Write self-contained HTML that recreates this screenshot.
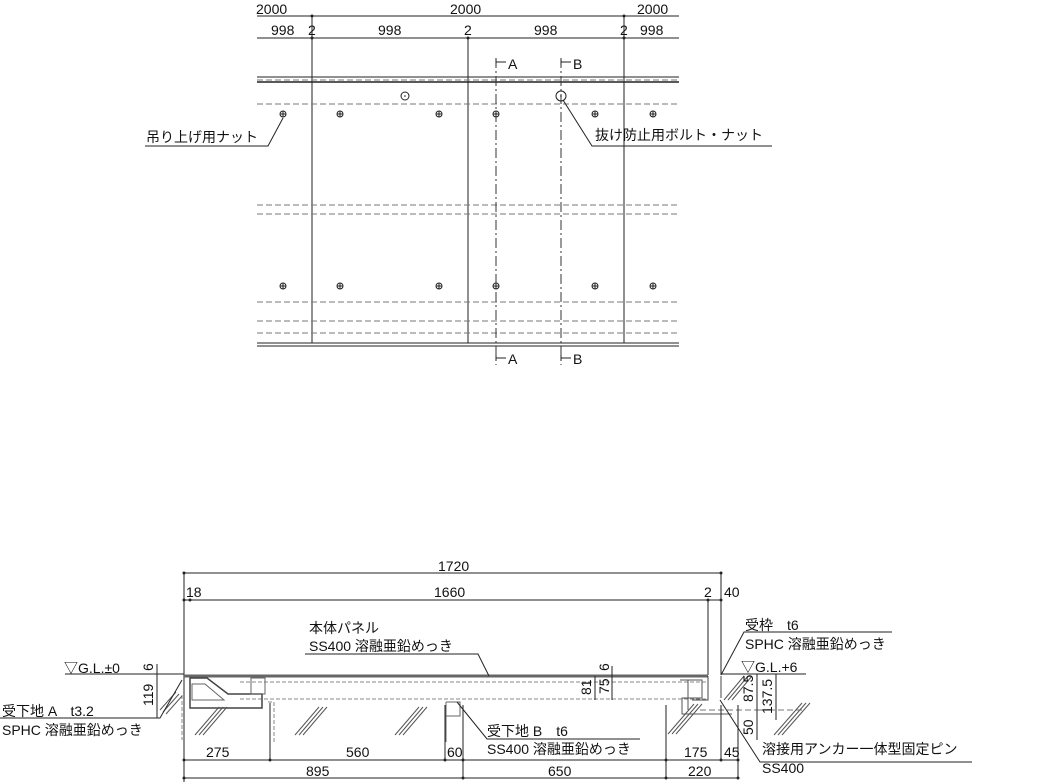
<!DOCTYPE html>
<html><head><meta charset="utf-8"><style>
body{margin:0;background:#fff}
svg{display:block}
text{font-family:"Liberation Sans","Noto Sans CJK JP",sans-serif;font-size:14px;fill:#111}
</style></head><body>
<svg width="1054" height="782" viewBox="0 0 1054 782" xmlns="http://www.w3.org/2000/svg">
<g stroke="#222" stroke-width="1" fill="none">
<line x1="257" y1="16" x2="679" y2="16"/>
<line x1="257" y1="38" x2="679" y2="38"/>
<line x1="312" y1="16" x2="312" y2="343"/>
<line x1="468" y1="38" x2="468" y2="343"/>
<line x1="624" y1="16" x2="624" y2="343"/>
<line x1="257" y1="77" x2="679" y2="77"/>
<line x1="257" y1="82" x2="679" y2="82" stroke-width="1.5"/>
<line x1="257" y1="343" x2="679" y2="343"/>
<line x1="257" y1="346" x2="679" y2="346"/>
</g>
<g stroke="#777" stroke-dasharray="6,3" fill="none">
<line x1="257" y1="80" x2="679" y2="80"/>
<line x1="257" y1="104" x2="679" y2="104"/>
<line x1="257" y1="205" x2="679" y2="205"/>
<line x1="257" y1="214" x2="679" y2="214"/>
<line x1="257" y1="302" x2="679" y2="302"/>
<line x1="257" y1="321" x2="679" y2="321"/>
<line x1="257" y1="333" x2="679" y2="333"/>
</g>
<g stroke="#333" stroke-dasharray="10,3,2,3" fill="none">
<line x1="496" y1="58" x2="496" y2="365"/>
<line x1="561" y1="58" x2="561" y2="365"/>
</g>
<g fill="#222">
<circle cx="312" cy="16" r="1.5"/><circle cx="624" cy="16" r="1.5"/>
<circle cx="312" cy="38" r="1.5"/><circle cx="468" cy="38" r="1.5"/><circle cx="624" cy="38" r="1.5"/>
</g>
<g stroke="#222" fill="none">
<g id="b"><circle cx="283" cy="114" r="3"/><line x1="280" y1="114" x2="286" y2="114"/><line x1="283" y1="111" x2="283" y2="117"/></g>
<use href="#b" x="57"/><use href="#b" x="156"/><use href="#b" x="213"/><use href="#b" x="312"/><use href="#b" x="370"/>
<use href="#b" y="172"/><use href="#b" x="57" y="172"/><use href="#b" x="156" y="172"/><use href="#b" x="213" y="172"/><use href="#b" x="312" y="172"/><use href="#b" x="370" y="172"/>
<circle cx="405" cy="96" r="4"/><circle cx="561" cy="96" r="5"/>
<polyline points="283,118 268,146 145,146"/>
<polyline points="563,100 592,146 772,146"/>
<path d="M496 62 h10 M496 59v6 M561 62h10 M561 59v6 M496 358h10 M496 355v6 M561 358h10 M561 355v6"/>
</g>
<g fill="#222"><circle cx="405" cy="96" r="0.8"/><circle cx="561" cy="96" r="0.8"/></g>
<text x="256" y="14">2000</text><text x="450" y="14">2000</text><text x="637" y="14">2000</text>
<text x="271" y="35">998</text><text x="308" y="35">2</text><text x="378" y="35">998</text><text x="464" y="35">2</text><text x="534" y="35">998</text><text x="620" y="35">2</text><text x="640" y="35">998</text>
<text x="508" y="69">A</text><text x="573" y="69">B</text><text x="508" y="364">A</text><text x="573" y="364">B</text>
<text x="146" y="142">吊り上げ用ナット</text>
<text x="595" y="140">抜け防止用ボルト・ナット</text>

<g stroke="#222" fill="none">
<line x1="184" y1="573" x2="721" y2="573"/>
<line x1="184" y1="600" x2="721" y2="600"/>
<line x1="184" y1="573" x2="184" y2="782"/>
<line x1="708" y1="600" x2="708" y2="675"/>
<line x1="721" y1="573" x2="721" y2="675"/>
<line x1="65" y1="674" x2="184" y2="674"/>
<line x1="721" y1="674" x2="806" y2="674"/>
<line x1="184" y1="676" x2="708" y2="676" stroke="#666" stroke-width="3"/>
<line x1="240" y1="699" x2="708" y2="699" stroke="#888" stroke-dasharray="4,2"/>
<line x1="240" y1="682" x2="708" y2="682" stroke="#888" stroke-dasharray="4,2"/>
<path d="M190 678 L207 678 L228 694 L262 694 L262 708 L190 708 Z" stroke="#444" stroke-width="1.5"/>
<path d="M192 684 L205 684 L224 700 L192 700 Z" stroke="#666"/>
<rect x="251" y="678" width="14" height="16" stroke="#666"/>
<path d="M268 702 h6 v40 M182 695 v45" stroke="#888" stroke-dasharray="4,2"/>
<path d="M446 702 h14 v14 h-14 M446 702 v40" stroke="#666"/>
<path d="M680 680 h22 v18 h-20 v16 h50 M688 680 v30" stroke="#555"/>
<path d="M708 676 v24 h-16 M721 676 v22" stroke="#444"/>
<path d="M700 710 h70" stroke="#777" stroke-dasharray="6,3"/>
<path d="M760 710 h45" stroke="#777" stroke-dasharray="6,3"/>
<g stroke="#555">
<path d="M160 710 l16-18 M163 712 l16-18 M166 714 l16-18"/>
<path d="M195 735 l24-28 M199 735 l24-28 M203 735 l24-28"/>
<path d="M295 735 l24-28 M299 735 l24-28 M303 735 l24-28"/>
<path d="M395 735 l24-28 M399 735 l24-28 M403 735 l24-28"/>
<path d="M668 734 l26-30 M672 734 l26-30 M676 734 l26-30"/>
<path d="M724 700 l20-24 M728 700 l20-24 M732 700 l20-24"/>
<path d="M774 735 l28-32 M778 735 l28-32 M782 735 l28-32"/>
</g>
<line x1="157" y1="664" x2="157" y2="718"/>
<line x1="612" y1="666" x2="612" y2="700"/>
<line x1="595" y1="676" x2="595" y2="700"/>
<line x1="757" y1="674" x2="757" y2="704"/>
<line x1="776" y1="674" x2="776" y2="720"/>
<line x1="757" y1="704" x2="757" y2="740"/>
<line x1="184" y1="760" x2="738" y2="760"/>
<line x1="184" y1="778" x2="738" y2="778"/>
<line x1="270" y1="703" x2="270" y2="760"/>
<line x1="445" y1="705" x2="445" y2="760"/>
<line x1="463" y1="705" x2="463" y2="778"/>
<line x1="666" y1="705" x2="666" y2="778"/>
<line x1="721" y1="705" x2="721" y2="760"/>
<line x1="738" y1="705" x2="738" y2="778"/>
<polyline points="305,654 478,654 489,676"/>
<polyline points="0,718 160,718 182,680"/>
<polyline points="457,702 487,739 640,739"/>
<polyline points="721,675 744,632 892,632"/>
<polyline points="720,700 760,762 972,762"/>
</g>
<g fill="#222">
<circle cx="184" cy="573" r="1.5"/><circle cx="721" cy="573" r="1.5"/><circle cx="184" cy="600" r="1.5"/><circle cx="190" cy="600" r="1.5"/><circle cx="708" cy="600" r="1.5"/><circle cx="721" cy="600" r="1.5"/>
<circle cx="184" cy="760" r="1.5"/><circle cx="270" cy="760" r="1.5"/><circle cx="445" cy="760" r="1.5"/><circle cx="463" cy="760" r="1.5"/><circle cx="666" cy="760" r="1.5"/><circle cx="721" cy="760" r="1.5"/><circle cx="738" cy="760" r="1.5"/>
<circle cx="184" cy="778" r="1.5"/><circle cx="463" cy="778" r="1.5"/><circle cx="666" cy="778" r="1.5"/><circle cx="738" cy="778" r="1.5"/>
</g>
<text x="438" y="571">1720</text>
<text x="186" y="597">18</text><text x="434" y="597">1660</text><text x="704" y="597">2</text><text x="724" y="597">40</text>
<text x="309" y="633">本体パネル</text>
<text x="309" y="651">SS400 溶融亜鉛めっき</text>
<text x="745" y="630">受枠　t6</text>
<text x="745" y="649">SPHC 溶融亜鉛めっき</text>
<text x="64" y="673">▽G.L.±0</text>
<text x="741" y="672">▽G.L.+6</text>
<text x="2" y="716">受下地 A　t3.2</text>
<text x="2" y="735">SPHC 溶融亜鉛めっき</text>
<text x="487" y="736">受下地 B　t6</text>
<text x="487" y="754">SS400 溶融亜鉛めっき</text>
<text x="762" y="754">溶接用アンカー一体型固定ピン</text>
<text x="762" y="773">SS400</text>
<text x="206" y="757">275</text><text x="346" y="757">560</text><text x="447" y="757">60</text><text x="684" y="757">175</text><text x="724" y="757">45</text>
<text x="306" y="776">895</text><text x="548" y="776">650</text><text x="688" y="776">220</text>
<g>
<text transform="translate(153,671) rotate(-90)">6</text>
<text transform="translate(153,706) rotate(-90)">119</text>
<text transform="translate(591,695) rotate(-90)">81</text>
<text transform="translate(609,694) rotate(-90)">75</text>
<text transform="translate(609,671) rotate(-90)">6</text>
<text transform="translate(753,702) rotate(-90)">87.5</text>
<text transform="translate(772,714) rotate(-90)">137.5</text>
<text transform="translate(753,735) rotate(-90)">50</text>
</g>
</svg>
</body></html>
